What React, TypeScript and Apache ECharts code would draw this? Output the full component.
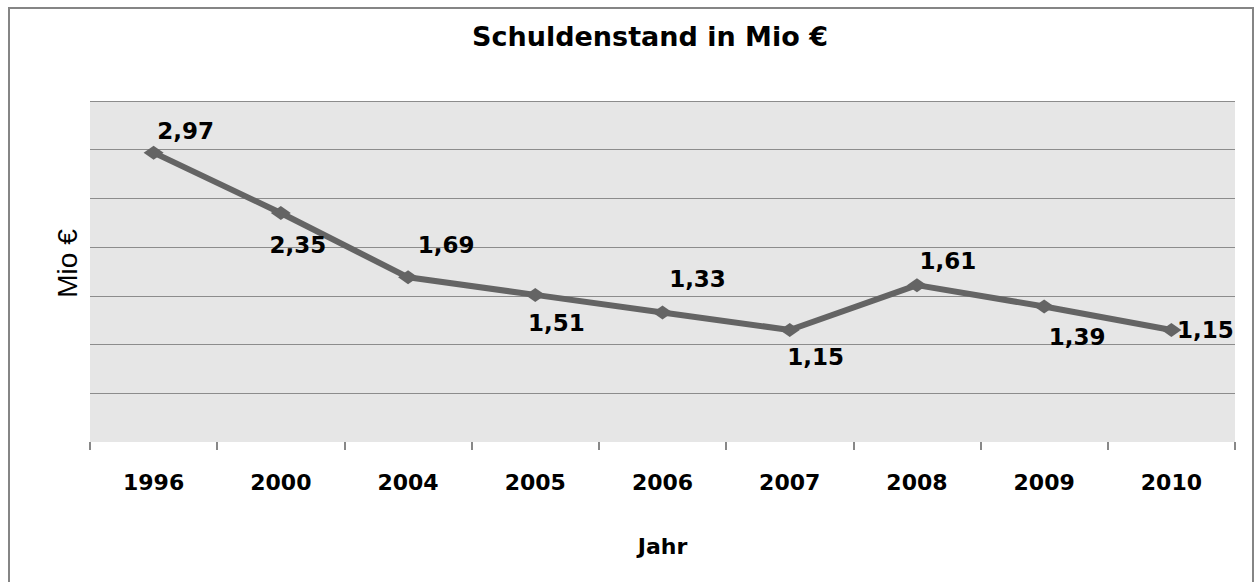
import React, { useEffect, useRef } from "react";
import * as echarts from "echarts";

const years = ["1996", "2000", "2004", "2005", "2006", "2007", "2008", "2009", "2010"];
const debt = [2.97, 2.35, 1.69, 1.51, 1.33, 1.15, 1.61, 1.39, 1.15];
// label offset from each point (styling only)
const labelOffsets = [
  [32, -22], [17, 32], [38, -32], [21, 28], [35, -33], [26, 27], [31, -24], [33, 30], [34, 0],
];
const titleText = "Schuldenstand in Mio €";
const yName = "Mio €";
const xName = "Jahr";

export default function App() {
  const ref = useRef<HTMLDivElement>(null);
  useEffect(() => {
    if (!ref.current) return;
    const chart = echarts.init(ref.current, null, { renderer: "svg" });
    const font = "'DejaVu Sans', Verdana, sans-serif";
    chart.setOption({
      animation: false,
      backgroundColor: "#ffffff",
      graphic: [
        {
          type: "rect",
          shape: { x: 9, y: 8, width: 1244, height: 600 },
          style: { fill: "none", stroke: "#858585", lineWidth: 2 },
          silent: true,
        },
        {
          type: "text",
          x: 650,
          y: 36,
          style: {
            text: titleText,
            font: `bold 27px ${font}`,
            fill: "#000",
            textAlign: "center",
            textVerticalAlign: "middle",
          },
        },
      ],
      grid: {
        left: 90,
        top: 101,
        right: 19,
        bottom: 140,
        show: true,
        backgroundColor: "#e6e6e6",
        borderWidth: 0,
      },
      xAxis: {
        type: "category",
        data: years,
        boundaryGap: true,
        axisLine: { show: false },
        axisTick: { show: true, length: 8, lineStyle: { color: "#888", width: 2 } },
        axisLabel: {
          margin: 29,
          fontFamily: font,
          fontWeight: "bold",
          fontSize: 22,
          color: "#000",
        },
        name: xName,
        nameLocation: "middle",
        nameGap: 93,
        nameTextStyle: { fontFamily: font, fontWeight: "bold", fontSize: 22, color: "#000" },
      },
      yAxis: {
        type: "value",
        min: 0,
        max: 3.5,
        interval: 0.5,
        axisLabel: { show: false },
        axisLine: { show: false },
        axisTick: { show: false },
        splitLine: {
          show: true,
          lineStyle: {
            color: ["rgba(0,0,0,0)", "#8c8c8c", "#8c8c8c", "#8c8c8c", "#8c8c8c", "#8c8c8c", "#8c8c8c", "#8c8c8c"],
            width: 1,
          },
        },
        name: yName,
        nameLocation: "middle",
        nameRotate: 90,
        nameGap: 9,
        nameTextStyle: {
          fontFamily: "'Liberation Sans Narrow', 'Liberation Sans', Arial, sans-serif",
          fontSize: 28,
          color: "#000",
          padding: [0, 0, 0, 16],
        },
      },
      series: [
        {
          type: "line",
          data: debt.map((v, i) => ({
            value: v,
            label: { offset: labelOffsets[i] },
          })),
          symbol: "diamond",
          symbolSize: [20, 14],
          lineStyle: { color: "#646464", width: 6 },
          itemStyle: { color: "#646464" },
          label: {
            show: true,
            position: "inside",
            align: "center",
            verticalAlign: "middle",
            fontFamily: font,
            fontWeight: "bold",
            fontSize: 23,
            color: "#000",
            formatter: (p: any) => p.value.toFixed(2).replace(".", ","),
          },
        },
      ],
    });
    return () => chart.dispose();
  }, []);
  return (
    <div
      ref={ref}
      style={{ position: "absolute", left: 0, top: 0, width: 1254, height: 582 }}
    />
  );
}
